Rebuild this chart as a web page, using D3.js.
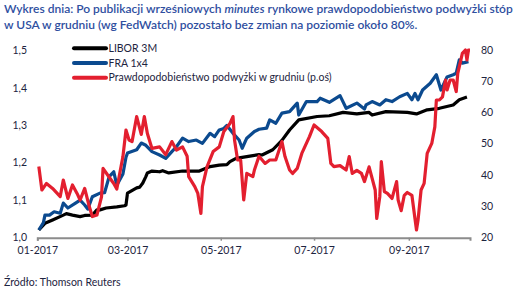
<!DOCTYPE html>
<html>
<head>
<meta charset="utf-8">
<script src="https://cdn.jsdelivr.net/npm/d3@7"></script>
<style>
  body { margin: 0; background: #fff; }
  svg { display: block; }
  .title { font-family: Lato, "Open Sans", sans-serif; font-size: 12px; fill: #2f4f9f; font-weight: 600; }
  .tick-label { font-family: Lato, "Open Sans", sans-serif; font-size: 10.5px; fill: #1d2440; }
  .legend-label { font-family: Lato, "Open Sans", sans-serif; font-size: 10.5px; fill: #1d2440; }
  .source { font-family: Lato, "Open Sans", sans-serif; font-size: 10.5px; fill: #1d2440; }
</style>
</head>
<body>
<svg id="chart" width="523" height="292"></svg>
<script>
// LIBOR 3M (left axis)
const liborDates = ["2017-01-02","2017-01-06","2017-01-11","2017-01-18","2017-01-20","2017-01-24","2017-01-29","2017-02-01","2017-02-06","2017-02-09","2017-02-11","2017-02-15","2017-02-22","2017-02-27","2017-02-28","2017-03-01","2017-03-07","2017-03-09","2017-03-11","2017-03-13","2017-03-14","2017-03-17","2017-03-22","2017-03-24","2017-03-28","2017-04-06","2017-04-17","2017-04-24","2017-04-30","2017-05-05","2017-05-07","2017-05-11","2017-05-20","2017-05-26","2017-05-28","2017-06-04","2017-06-10","2017-06-15","2017-06-21","2017-07-03","2017-07-11","2017-07-20","2017-07-29","2017-08-06","2017-08-08","2017-08-17","2017-08-31","2017-09-06","2017-09-13","2017-09-21","2017-09-30","2017-10-04","2017-10-09"];
const liborValues = [1.02,1.038,1.047,1.06,1.064,1.06,1.056,1.059,1.06,1.074,1.074,1.079,1.082,1.085,1.087,1.119,1.133,1.135,1.146,1.163,1.173,1.178,1.176,1.179,1.173,1.178,1.178,1.19,1.194,1.195,1.203,1.212,1.218,1.222,1.221,1.235,1.26,1.288,1.315,1.324,1.326,1.335,1.331,1.335,1.328,1.337,1.335,1.331,1.342,1.346,1.355,1.369,1.376];

// FRA 1x4 (left axis)
const fraDates = ["2017-01-02","2017-01-05","2017-01-06","2017-01-09","2017-01-12","2017-01-16","2017-01-18","2017-01-21","2017-01-26","2017-01-29","2017-02-01","2017-02-03","2017-02-06","2017-02-11","2017-02-14","2017-02-17","2017-02-20","2017-02-22","2017-02-26","2017-02-28","2017-03-01","2017-03-07","2017-03-10","2017-03-13","2017-03-17","2017-03-22","2017-03-26","2017-03-30","2017-04-02","2017-04-06","2017-04-10","2017-04-15","2017-04-19","2017-04-24","2017-04-27","2017-04-30","2017-05-03","2017-05-05","2017-05-09","2017-05-13","2017-05-15","2017-05-18","2017-05-23","2017-05-26","2017-05-31","2017-06-02","2017-06-06","2017-06-10","2017-06-15","2017-06-20","2017-06-21","2017-06-26","2017-07-03","2017-07-05","2017-07-11","2017-07-18","2017-07-22","2017-07-29","2017-08-03","2017-08-04","2017-08-08","2017-08-13","2017-08-17","2017-08-21","2017-08-26","2017-08-31","2017-09-03","2017-09-05","2017-09-07","2017-09-10","2017-09-15","2017-09-19","2017-09-22","2017-09-26","2017-09-30","2017-10-02","2017-10-04","2017-10-06","2017-10-10"];
const fraValues = [1.02,1.04,1.06,1.06,1.069,1.065,1.092,1.079,1.092,1.10,1.087,1.076,1.109,1.119,1.12,1.163,1.176,1.14,1.17,1.215,1.226,1.235,1.253,1.247,1.23,1.221,1.212,1.23,1.243,1.266,1.257,1.261,1.252,1.279,1.27,1.288,1.292,1.30,1.279,1.261,1.239,1.266,1.284,1.29,1.293,1.315,1.306,1.333,1.337,1.36,1.328,1.364,1.364,1.373,1.362,1.38,1.346,1.36,1.344,1.355,1.364,1.355,1.369,1.364,1.377,1.386,1.369,1.386,1.369,1.395,1.413,1.436,1.395,1.43,1.436,1.44,1.476,1.467,1.471];

// Prawdopodobieństwo podwyżki w grudniu (right axis, %)
const probDates = ["2017-01-02","2017-01-04","2017-01-07","2017-01-11","2017-01-16","2017-01-18","2017-01-21","2017-01-24","2017-01-27","2017-01-29","2017-02-01","2017-02-04","2017-02-06","2017-02-09","2017-02-12","2017-02-13","2017-02-16","2017-02-20","2017-02-22","2017-02-26","2017-02-28","2017-03-02","2017-03-04","2017-03-07","2017-03-10","2017-03-12","2017-03-14","2017-03-17","2017-03-22","2017-03-26","2017-03-30","2017-04-02","2017-04-06","2017-04-09","2017-04-10","2017-04-14","2017-04-16","2017-04-18","2017-04-19","2017-04-22","2017-04-26","2017-04-30","2017-05-03","2017-05-07","2017-05-09","2017-05-10","2017-05-12","2017-05-14","2017-05-16","2017-05-18","2017-05-22","2017-05-23","2017-05-26","2017-05-30","2017-06-02","2017-06-06","2017-06-10","2017-06-12","2017-06-15","2017-06-17","2017-06-20","2017-06-23","2017-06-28","2017-07-01","2017-07-06","2017-07-10","2017-07-12","2017-07-14","2017-07-18","2017-07-22","2017-07-24","2017-07-26","2017-07-29","2017-08-01","2017-08-03","2017-08-06","2017-08-10","2017-08-11","2017-08-13","2017-08-14","2017-08-16","2017-08-18","2017-08-21","2017-08-24","2017-08-25","2017-08-27","2017-08-29","2017-08-31","2017-09-03","2017-09-05","2017-09-06","2017-09-07","2017-09-09","2017-09-11","2017-09-13","2017-09-16","2017-09-18","2017-09-19","2017-09-21","2017-09-23","2017-09-25","2017-09-26","2017-09-28","2017-09-30","2017-10-02","2017-10-03","2017-10-06","2017-10-08","2017-10-09","2017-10-10","2017-10-11"];
const probValues = [42.7,35.2,37.3,35.7,33.1,38.4,32.5,36.8,34.1,32,35.7,29.9,26.7,27.2,33,42.1,40,37.3,35.5,45.9,54.4,51.2,50.7,58.7,53,58.7,53.3,48.5,49,46.5,50.7,48,49,46,39.5,36.3,34.1,27.7,36.3,42.6,47.5,49,53.9,56.5,58.7,51.2,44.8,44.8,32,40.5,39.5,41.6,46,43.7,44.8,44.8,50.7,45.9,41.6,40.5,42.1,46.9,52.3,56,53.9,51.7,43.7,42.7,43,41.6,45.9,40.5,41.5,40.5,37.9,42.6,35.2,26.1,33,44.3,34.7,34.1,32.5,37.9,32,28.6,33.5,34.4,33.5,26.1,22.4,25.5,35.2,37.3,46.9,50.1,55.4,64,64,65,70.4,67.2,70.4,70.4,66.7,72.5,78.9,80,76.8,80,80];

const leftTicks = [1.0, 1.1, 1.2, 1.3, 1.4, 1.5];
const rightTicks = [20, 30, 40, 50, 60, 70, 80];
const monthTicks = ["2017-01-01","2017-03-01","2017-05-01","2017-07-01","2017-09-01"];

const titleLines = [
    ["Wykres dnia: Po publikacji wrześniowych ", "minutes", " rynkowe prawdopodobieństwo podwyżki stóp"],
    ["w USA w grudniu (wg FedWatch) pozostało bez zmian na poziomie około 80%."]
];
const titleWidths = [515, 419];
const legendItems = [
    {name: "LIBOR 3M", color: "#000000"},
    {name: "FRA 1x4", color: "#0b4a8f"},
    {name: "Prawdopodobieństwo podwyżki w grudniu (p.oś)", color: "#e31f2f"}
];

const parse = d3.timeParse("%Y-%m-%d");
const svg = d3.select("#chart");

const x = d3.scaleTime()
    .domain([parse("2017-01-01"), parse("2017-10-11")])
    .range([37.3, 470]);
const yLeft = d3.scaleLinear().domain([1.0, 1.5]).range([237.5, 50.8]);
const yRight = d3.scaleLinear().domain([20, 80]).range([237.5, 50.0]);

// title, "minutes" in italics; each line shrunk to the width it has in the original
titleLines.forEach((parts, i) => {
    const t = svg.append("text").attr("class", "title")
        .attr("x", 4).attr("y", 12.5 + i * 16.5);
    parts.forEach((p, j) => {
        t.append("tspan").text(p).style("font-style", (i === 0 && j === 1) ? "italic" : "normal");
    });
    const w = t.node().getComputedTextLength();
    if (w > titleWidths[i]) {
        t.style("font-size", (12 * titleWidths[i] / w).toFixed(2) + "px");
    }
});

// x axis: grey baseline with small ticks
const xAxis = d3.axisBottom(x)
    .tickValues(monthTicks.map(parse))
    .tickFormat(d3.timeFormat("%m-%Y"))
    .tickSize(3)
    .tickPadding(6);
const xg = svg.append("g").attr("transform", "translate(0,237.7)").call(xAxis);
xg.select(".domain").attr("stroke", "#8c8c8c").attr("stroke-width", 2);
xg.selectAll(".tick line").attr("stroke", "#8c8c8c").attr("stroke-width", 1.5);
xg.selectAll(".tick text").attr("class", "tick-label").attr("fill", null);

// left axis labels only
svg.append("g").selectAll("text")
    .data(leftTicks)
    .enter().append("text")
    .attr("class", "tick-label")
    .attr("x", 27).attr("y", d => yLeft(d))
    .attr("dy", "0.35em")
    .attr("text-anchor", "end")
    .text(d => d3.format(".1f")(d).replace(".", ","));

// right axis labels only
svg.append("g").selectAll("text")
    .data(rightTicks)
    .enter().append("text")
    .attr("class", "tick-label")
    .attr("x", 481).attr("y", d => yRight(d))
    .attr("dy", "0.35em")
    .text(d => d);

function series(dates, values) {
    return dates.map((d, i) => [parse(d), values[i]]);
}

const lineLeft = d3.line().x(d => x(d[0])).y(d => yLeft(d[1]));
const lineRight = d3.line().x(d => x(d[0])).y(d => yRight(d[1]));

const plots = [
    {data: series(liborDates, liborValues), line: lineLeft, color: legendItems[0].color},
    {data: series(fraDates, fraValues), line: lineLeft, color: legendItems[1].color},
    {data: series(probDates, probValues), line: lineRight, color: legendItems[2].color}
];

plots.forEach(p => {
    svg.append("path")
        .datum(p.data)
        .attr("d", p.line)
        .attr("fill", "none")
        .attr("stroke", p.color)
        .attr("stroke-width", 3.2)
        .attr("stroke-linejoin", "round");
});

// legend
const legend = svg.append("g");
legendItems.forEach((item, i) => {
    const ly = 48.3 + i * 14.7;
    legend.append("line")
        .attr("x1", 74).attr("x2", 106)
        .attr("y1", ly).attr("y2", ly)
        .attr("stroke", item.color)
        .attr("stroke-width", 4)
        .attr("stroke-linecap", "round");
    legend.append("text")
        .attr("class", "legend-label")
        .attr("x", 108.5).attr("y", ly)
        .attr("dy", "0.35em")
        .text(item.name);
});

svg.append("text").attr("class", "source")
    .attr("x", 4).attr("y", 286)
    .text("Źródło: Thomson Reuters");
</script>
</body>
</html>
